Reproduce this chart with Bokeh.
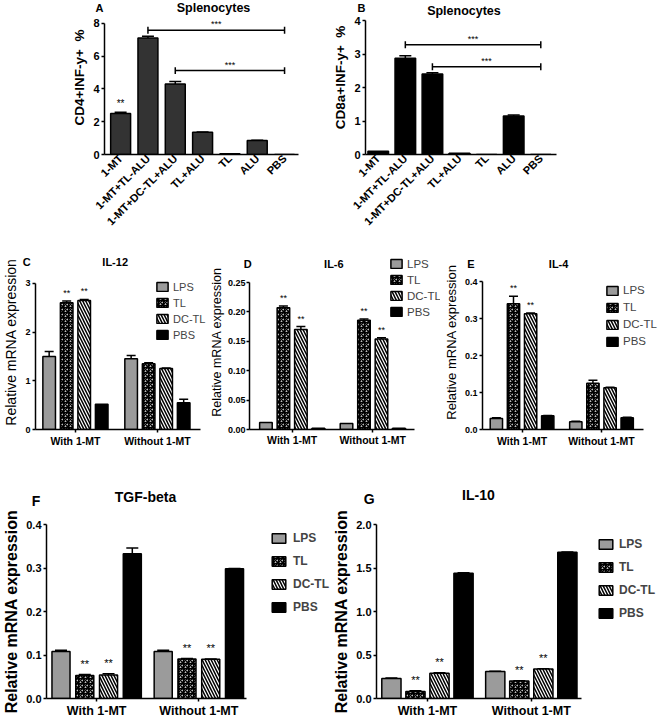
import math
from bokeh.plotting import figure
from bokeh.models import (ColumnDataSource, Whisker, TeeHead, Label, Legend, LegendItem,
                          FixedTicker, Range1d, PrintfTickFormatter)
from bokeh.layouts import column, row
from bokeh.embed import file_html
from bokeh.resources import INLINE
from bokeh.core.properties import value

FONT = "Liberation Sans"

# ---------------- data ----------------
spleen_groups = ["1-MT", "1-MT+TL-ALU", "1-MT+DC-TL+ALU", "TL+ALU", "TL", "ALU", "PBS"]
cd4_pct = [2.5, 7.1, 4.3, 1.35, 0.04, 0.85, 0.0]
cd4_sem = [0.08, 0.12, 0.15, 0.03, 0.0, 0.02, 0.0]
cd4_stars = ["**", "", "", "", "", "", ""]
cd8_pct = [0.1, 2.87, 2.4, 0.04, 0.0, 1.15, 0.0]
cd8_sem = [0.0, 0.08, 0.04, 0.0, 0.0, 0.03, 0.0]
cd8_stars = ["", "", "", "", "", "", ""]

treatments = ["LPS", "TL", "DC-TL", "PBS"]
conditions = ["With 1-MT", "Without 1-MT"]

il12_with = [1.5, 2.6, 2.65, 0.52]
il12_with_err = [0.1, 0.04, 0.02, 0.0]
il12_without = [1.45, 1.35, 1.25, 0.55]
il12_without_err = [0.07, 0.02, 0.01, 0.07]
il12_sig = [["", "**", "**", ""], ["", "", "", ""]]

il6_with = [0.012, 0.207, 0.17, 0.002]
il6_with_err = [0.0, 0.003, 0.005, 0.0]
il6_without = [0.01, 0.186, 0.154, 0.002]
il6_without_err = [0.0, 0.002, 0.002, 0.0]
il6_sig = [["", "**", "**", ""], ["", "**", "**", ""]]

il4_with = [0.03, 0.34, 0.313, 0.037]
il4_with_err = [0.002, 0.02, 0.002, 0.001]
il4_without = [0.021, 0.125, 0.113, 0.032]
il4_without_err = [0.001, 0.008, 0.001, 0.001]
il4_sig = [["", "**", "**", ""], ["", "", "", ""]]

tgf_with = [0.108, 0.053, 0.054, 0.333]
tgf_with_err = [0.003, 0.002, 0.003, 0.013]
tgf_without = [0.108, 0.091, 0.09, 0.298]
tgf_without_err = [0.003, 0.001, 0.001, 0.001]
tgf_sig = [["", "**", "**", ""], ["", "**", "**", ""]]

il10_with = [0.23, 0.08, 0.29, 1.44]
il10_with_err = [0.005, 0.01, 0.005, 0.005]
il10_without = [0.31, 0.2, 0.34, 1.68]
il10_without_err = [0.003, 0.005, 0.003, 0.003]
il10_sig = [["", "**", "**", ""], ["", "**", "**", ""]]

# ---------------- styles ----------------
TREAT_STYLE = {
    "LPS": dict(fill_color="#9b9b9b"),
    "TL": dict(fill_color="white", hatch_pattern="criss_cross", hatch_color="black",
               hatch_scale=5, hatch_weight=1.5),
    "DC-TL": dict(fill_color="white", hatch_pattern="left_diagonal_line", hatch_color="black",
                  hatch_scale=6, hatch_weight=1.5),
    "PBS": dict(fill_color="black"),
}


class Geo:
    """maps page-pixel positions to data coordinates of one panel"""
    def __init__(self, box, frame, xr, ymax, top_ext=None, right_ext=None):
        self.box, self.frame, self.xr, self.ymax = box, frame, xr, ymax
        l, t, r, b = frame
        self.ppx = (r - l) / (xr[1] - xr[0])
        self.ppu = (b - t) / ymax
        self.T = t if top_ext is None else top_ext
        self.R = r if right_ext is None else right_ext

    def x(self, sx):
        return self.xr[0] + (sx - self.frame[0]) / self.ppx

    def y(self, sy):
        return (self.frame[3] - sy) / self.ppu


def base_fig(g):
    x0, y0, w, h = g.box
    l, t, r, b = g.frame
    xr = (g.xr[0], g.x(g.R))
    yr = (0, g.y(g.T))
    p = figure(width=w, height=h, x_range=Range1d(*xr), y_range=Range1d(*yr),
               output_backend="svg", toolbar_location=None,
               min_border_left=l - x0, min_border_right=x0 + w - g.R,
               min_border_top=g.T - y0, min_border_bottom=y0 + h - b)
    p.outline_line_color = None
    p.xgrid.visible = False
    p.ygrid.visible = False
    p.background_fill_color = "white"
    p.border_fill_color = "white"
    return p


def style_axes(p, g, tick_size, ylabel, ylab_size, ylab_bold, yticks, yfmt, xlab_size,
               lab_standoff=2, axlab_standoff=3):
    for ax in (p.xaxis[0], p.yaxis[0]):
        ax.axis_line_width = 1.5
        ax.axis_line_color = "black"
        ax.major_tick_line_width = 1.5
        ax.major_tick_line_color = "black"
        ax.minor_tick_line_color = None
        ax.major_tick_in = 0
        ax.major_tick_out = 3
        ax.major_label_text_font = FONT
        ax.major_label_text_font_style = "bold"
        ax.major_label_text_color = "black"
        ax.major_label_standoff = lab_standoff
    p.xaxis.bounds = tuple(g.xr)
    p.yaxis.bounds = (0, g.ymax)
    p.yaxis.major_label_text_font_size = f"{tick_size}px"
    p.xaxis.major_label_text_font_size = f"{xlab_size}px"
    p.yaxis.ticker = FixedTicker(ticks=yticks)
    p.yaxis.formatter = PrintfTickFormatter(format=yfmt)
    p.yaxis.axis_label = ylabel
    p.yaxis.axis_label_text_font = FONT
    p.yaxis.axis_label_text_font_size = f"{ylab_size}px"
    p.yaxis.axis_label_text_font_style = "bold" if ylab_bold else "normal"
    p.yaxis.axis_label_text_color = "black"
    p.yaxis.axis_label_standoff = axlab_standoff


def put_text(p, g, sx, sy, text, size, align="center", place="center", bold=True):
    lab = Label(x=g.x(sx), y=g.y(sy), text=text,
                text_font=FONT, text_font_size=f"{size}px",
                text_font_style="bold" if bold else "normal",
                text_align=align, text_baseline="middle", text_color="black")
    p.add_layout(lab, place)


def spleen_panel(g, cfg, vals, errs, stars, brackets):
    p = base_fig(g)
    ppu = g.ppu
    xs = list(range(len(spleen_groups)))
    p.vbar(x=xs, top=vals, width=cfg["bw"], fill_color=cfg["fill"],
           line_color="black", line_width=1.5)
    wx = [x for x, e in zip(xs, errs) if e > 0]
    wlo = [v for v, e in zip(vals, errs) if e > 0]
    whi = [v + e for v, e in zip(vals, errs) if e > 0]
    p.add_layout(Whisker(source=ColumnDataSource(dict(x=wx, lo=wlo, hi=whi)), base="x",
                         lower="lo", upper="hi", line_width=1.5, line_color="black",
                         upper_head=TeeHead(size=12, line_width=1.5, line_color="black"),
                         lower_head=None))
    sx = [x for x, s in zip(xs, stars) if s]
    sy = [v + e + 9 / ppu for v, e, s in zip(vals, errs, stars) if s]
    st = [s for s in stars if s]
    p.text(x="x", y="y", text="t", source=ColumnDataSource(dict(x=sx, y=sy, t=st)),
           text_align="center", text_baseline="middle", text_font=value(FONT),
           text_font_size="10px", text_color="black")
    # significance brackets
    hx0, hx1, hy, cx, cy0, cy1, tx, ty = [], [], [], [], [], [], [], []
    for i, j, off in brackets:
        y = vals[i] + errs[i] + off / ppu
        hx0.append(i); hx1.append(j); hy.append(y)
        for xx in (i, j):
            cx.append(xx); cy0.append(y - 3.5 / ppu); cy1.append(y + 3.5 / ppu)
        tx.append((i + j) / 2); ty.append(y + 6 / ppu)
    p.segment(x0=hx0, y0=hy, x1=hx1, y1=hy, line_color="black", line_width=1.5)
    p.segment(x0=cx, y0=cy0, x1=cx, y1=cy1, line_color="black", line_width=1.5)
    p.text(x=tx, y=ty, text=["***"] * len(tx), text_align="center", text_baseline="middle",
           text_font=value(FONT), text_font_size="9px", text_color="black")

    style_axes(p, g, 11, cfg["ylabel"], 13.5, True, cfg["yticks"], "%d", 11)
    p.xaxis.ticker = FixedTicker(ticks=xs)
    p.xaxis.major_label_overrides = {i: gname for i, gname in zip(xs, spleen_groups)}
    p.xaxis.major_label_orientation = math.pi / 4
    p.xaxis.major_tick_out = 0
    lx, ly, lplace = cfg["letter"]
    put_text(p, g, lx, ly, cfg["letter_text"], 11, "left", lplace)
    put_text(p, g, cfg["title_pos"][0], cfg["title_pos"][1], "Splenocytes", 12.5)
    return p


def grouped_panel(g, cfg, with_v, with_e, wo_v, wo_e, sig):
    l, t, r, b = g.frame
    ppu = g.ppu
    gap, bw = cfg["gap"], cfg["bw"]
    p = base_fig(g)
    rends = []
    wx, wlo, whi, sx, sy, st = [], [], [], [], [], []
    for k, name in enumerate(treatments):
        xs = [k, gap + k]
        tops = [with_v[k], wo_v[k]]
        errs = [with_e[k], wo_e[k]]
        src = ColumnDataSource(dict(x=xs, top=tops))
        rends.append(p.vbar(x="x", top="top", width=bw, source=src, line_color="black",
                            line_width=1.5, **TREAT_STYLE[name]))
        for xi, ti, ei, si in zip(xs, tops, errs, [sig[0][k], sig[1][k]]):
            if ei > 0:
                wx.append(xi); wlo.append(ti); whi.append(ti + ei)
            if si:
                sx.append(xi); sy.append(ti + ei + cfg["star_px"] / ppu); st.append(si)
    p.add_layout(Whisker(source=ColumnDataSource(dict(x=wx, lo=wlo, hi=whi)), base="x",
                         lower="lo", upper="hi", line_width=1.5, line_color="black",
                         upper_head=TeeHead(size=cfg["cap"], line_width=1.5, line_color="black"),
                         lower_head=None))
    p.text(x="x", y="y", text="t", source=ColumnDataSource(dict(x=sx, y=sy, t=st)),
           text_align="center", text_baseline="middle", text_font=value(FONT),
           text_font_size=f"{cfg['star_size']}px", text_color="black")

    style_axes(p, g, cfg["tick_size"], "Relative mRNA expression", cfg["ylab_size"],
               cfg["ylab_bold"], cfg["yticks"], cfg["yfmt"], cfg["group_size"],
               cfg.get("lab_standoff", 2), cfg.get("axlab_standoff", 3))
    centers = [1.5, round(gap + 1.5, 3)]
    p.xaxis.ticker = FixedTicker(ticks=centers)
    p.xaxis.major_label_overrides = {c: lab for c, lab in zip(centers, conditions)}

    gl, row1, pitch, fsize, fbold, gw, gh, standoff = cfg["legend"]
    top = row1 - gh / 2 + 1
    bottom = top + 4 * pitch
    leg = Legend(items=[LegendItem(label=n, renderers=[rr]) for n, rr in zip(treatments, rends)],
                 location=(gl - l, b - bottom), glyph_width=gw, glyph_height=gh,
                 label_height=pitch, spacing=0, padding=0, margin=0, label_standoff=standoff,
                 label_text_font=FONT, label_text_font_size=f"{fsize}px",
                 label_text_font_style="bold" if fbold else "normal",
                 border_line_color=None, background_fill_alpha=0)
    p.add_layout(leg)
    lx, ly, lplace = cfg["letter"]
    put_text(p, g, lx, ly, cfg["letter_text"], cfg["title_size"], "left", lplace)
    tx, ty, tplace = cfg["title_pos"]
    put_text(p, g, tx, ty, cfg["title"], cfg["title_size"], "center", tplace)
    return p


gA = Geo((0, 0, 330, 254), (104, 23, 298, 155), (-0.59, 6.51), 8, top_ext=0)
pA = spleen_panel(gA, dict(bw=0.73, yticks=[0, 2, 4, 6, 8], fill="#333333",
                           ylabel="CD4+INF-y+ \u00a0%", letter_text="A",
                           letter=(95, 8, "left"), title_pos=(213, 8)),
                  cd4_pct, cd4_sem, cd4_stars, [(1, 6, 6), (2, 6, 11)])
gB = Geo((330, 0, 328, 254), (362, 20, 556, 154), (-0.47, 6.58), 4, top_ext=0)
pB = spleen_panel(gB, dict(bw=0.76, yticks=[0, 1, 2, 3, 4], fill="black",
                           ylabel="CD8a+INF-y+ \u00a0%", letter_text="B",
                           letter=(354, 7, "below"), title_pos=(462, 10)),
                  cd8_pct, cd8_sem, cd8_stars, [(1, 6, 11), (2, 6, 6)])

gC = Geo((0, 254, 206, 216), (30, 283, 200, 430), (-0.78, 8.65), 3, top_ext=254, right_ext=206)
pC = grouped_panel(gC, dict(gap=4.68, bw=0.72, yticks=[0, 1, 2, 3], yfmt="%d",
                            tick_size=9, ylab_size=14, ylab_bold=False, group_size=10.5,
                            cap=9, star_px=8, star_size=9, title="IL-12", title_size=11,
                            letter_text="C", letter=(17, 262, "below"),
                            title_pos=(112, 262, "center"),
                            legend=(150, 284, 16, 11, False, 14, 11, 4)),
                   il12_with, il12_with_err, il12_without, il12_without_err, il12_sig)
gD = Geo((206, 254, 234, 216), (243, 282, 413, 429), (-0.94, 8.49), 0.25, top_ext=254, right_ext=440)
pD = grouped_panel(gD, dict(gap=4.61, bw=0.72, yticks=[0, 0.05, 0.1, 0.15, 0.2, 0.25],
                            yfmt="%.2f", tick_size=9, ylab_size=12.5, ylab_bold=False, group_size=10.5,
                            lab_standoff=1, axlab_standoff=1,
                            cap=9, star_px=8, star_size=9, title="IL-6", title_size=11,
                            letter_text="D", letter=(237, 263, "below"),
                            title_pos=(330, 263, "center"),
                            legend=(383, 260, 16, 11.5, False, 14, 11, 4)),
                   il6_with, il6_with_err, il6_without, il6_without_err, il6_sig)
gE = Geo((440, 254, 218, 216), (473, 281, 642, 429), (-0.81, 8.58), 0.4, top_ext=254, right_ext=658)
pE = grouped_panel(gE, dict(gap=4.64, bw=0.72, yticks=[0, 0.1, 0.2, 0.3, 0.4],
                            yfmt="%.1f", tick_size=9, ylab_size=13, ylab_bold=False, group_size=10.5,
                            cap=9, star_px=8, star_size=9, title="IL-4", title_size=11,
                            letter_text="E", letter=(457, 263, "below"),
                            title_pos=(553, 263, "center"),
                            legend=(596, 286, 17, 11.5, False, 14, 11, 4)),
                   il4_with, il4_with_err, il4_without, il4_without_err, il4_sig)
gF = Geo((0, 470, 330, 250), (43, 522, 245, 700), (-0.61, 7.8), 0.4, right_ext=330)
pF = grouped_panel(gF, dict(gap=4.3, bw=0.76, yticks=[0, 0.1, 0.2, 0.3, 0.4],
                            yfmt="%.1f", tick_size=11, ylab_size=16, ylab_bold=True, group_size=12.5,
                            cap=12, star_px=11, star_size=11, title="TGF-beta", title_size=14,
                            letter_text="F", letter=(28, 498, "above"),
                            title_pos=(143, 494, "above"),
                            legend=(267, 533, 23, 12, True, 17, 12, 6)),
                   tgf_with, tgf_with_err, tgf_without, tgf_without_err, tgf_sig)
gG = Geo((330, 470, 328, 250), (373, 524, 580, 700), (-0.62, 7.9), 2.0, right_ext=658)
pG = grouped_panel(gG, dict(gap=4.32, bw=0.8, yticks=[0, 0.5, 1.0, 1.5, 2.0],
                            yfmt="%.1f", tick_size=11, ylab_size=16, ylab_bold=True, group_size=12.5,
                            cap=12, star_px=11, star_size=11, title="IL-10", title_size=14,
                            letter_text="G", letter=(360, 498, "above"),
                            title_pos=(476, 494, "above"),
                            legend=(594, 539, 23, 12, True, 17, 12, 5)),
                   il10_with, il10_with_err, il10_without, il10_without_err, il10_sig)

layout = column(row(pA, pB), row(pC, pD, pE), row(pF, pG))
open("out.html", "w").write(file_html(layout, INLINE))
